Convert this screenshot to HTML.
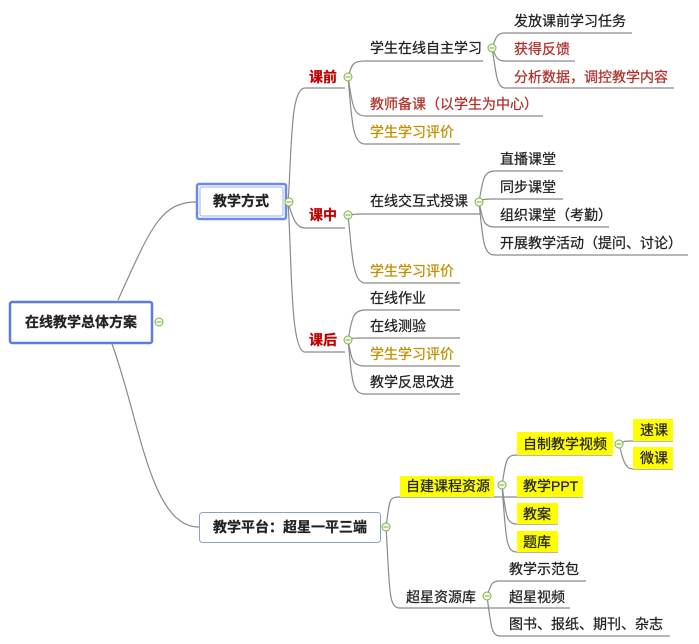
<!DOCTYPE html>
<html><head><meta charset="utf-8"><style>
html,body{margin:0;padding:0;background:#fff;}
svg{display:block}
text{font-family:"Liberation Sans","Noto Sans CJK SC",sans-serif;font-size:14px;fill:#222;stroke:#222;stroke-width:0.25;dominant-baseline:central}
.r{fill:#b0302a;stroke:#b0302a}.g{fill:#c09000;stroke:#c09000}.k{fill:#c00000;stroke:#c00000;font-weight:bold}.b{font-weight:bold}
path,line{fill:none;stroke:#8a8a8a;stroke-width:1.2}
.ic{fill:#f4fbe8;stroke:#7cb342;stroke-width:1}
.y{fill:#ffff00;stroke:none}
</style></head><body>
<svg width="699" height="644" viewBox="0 0 699 644" xmlns="http://www.w3.org/2000/svg">
<path d="M118 300 C150 230,160 202,196 202"/>
<path d="M112 344 C140 420,150 527,199 527"/>
<path d="M288 202 C292 150,290 88,305 88 L345 88"/>
<path d="M288 202 C292 215,295 228,305 228 L345 228"/>
<path d="M288 202 C292 260,290 352,305 352 L345 352"/>
<path d="M348 77 C352 65,352 61,365 61 L483 61"/>
<path d="M348 77 C352 100,352 116,365 116 L543 116"/>
<path d="M348 77 C352 120,352 144,365 144 L460 144"/>
<path d="M492 48 C496 38,496 33,505 33 L632 33"/>
<path d="M492 48 C496 56,496 61,505 61 L575 61"/>
<path d="M492 48 C496 70,496 88,505 88 L674 88"/>
<path d="M348 215 C352 215,352 214,365 214 L480 214"/>
<path d="M348 215 C352 250,352 283,365 283 L460 283"/>
<path d="M479 202 C483 180,483 171,495 171 L563 171"/>
<path d="M479 202 C483 199,483 199,495 199 L563 199"/>
<path d="M479 202 C483 220,483 227,495 227 L609 227"/>
<path d="M479 202 C483 240,483 255,495 255 L688 255"/>
<path d="M348 340 C352 320,352 310,365 310 L460 310"/>
<path d="M348 340 C352 338,352 338,365 338 L460 338"/>
<path d="M348 340 C352 360,352 366,365 366 L460 366"/>
<path d="M348 340 C352 380,352 394,365 394 L460 394"/>
<path d="M386 527 C390 500,388 497,400 497 L500 497"/>
<path d="M386 527 C390 590,388 608,400 608 L485 608"/>
<path d="M502 485 C506 460,506 455,517 455 L612 455"/>
<path d="M500 497 L583 497"/>
<path d="M502 485 C506 515,506 524,517 524 L558 524"/>
<path d="M502 485 C506 540,506 552,517 552 L558 552"/>
<path d="M619 444 C623 441,625 441,633 441 L673 441"/>
<path d="M619 444 C623 460,625 469,633 469 L673 469"/>
<path d="M487 596 C491 585,491 581,500 581 L586 581"/>
<path d="M485 608 L570 608"/>
<path d="M487 596 C491 625,491 636,500 636 L670 636"/>
<rect x="10" y="302" width="142" height="41" rx="2" fill="#fff" stroke="#5b7be0" stroke-width="2.5"/>
<text x="81" y="322" text-anchor="middle" class="b">在线教学总体方案</text>
<rect x="197" y="184" width="89" height="35" rx="2" fill="#fff" stroke="#6d8ce8" stroke-width="2.5"/>
<rect x="200" y="187" width="83" height="29" rx="2" fill="none" stroke="#9fb3ef" stroke-width="1"/>
<text x="241" y="201" text-anchor="middle" class="b">教学方式</text>
<rect x="199.5" y="512.5" width="181" height="30" rx="3" fill="#fff" stroke="#8ea0c8" stroke-width="1"/>
<text x="290" y="527" text-anchor="middle" class="b">教学平台：超星一平三端</text>
<rect class="y" x="400" y="476" width="94" height="21"/>
<rect class="y" x="517" y="432" width="96" height="23"/>
<rect class="y" x="633" y="419" width="40" height="22"/>
<rect class="y" x="633" y="447" width="40" height="22"/>
<rect class="y" x="517" y="476" width="66" height="21"/>
<rect class="y" x="517" y="503" width="41" height="21"/>
<rect class="y" x="517" y="531" width="41" height="21"/>
<text x="309" y="77" class="k">课前</text>
<text x="309" y="215" class="k">课中</text>
<text x="309" y="340" class="k">课后</text>
<text x="370" y="48">学生在线自主学习</text>
<text x="370" y="104" class="r">教师备课（以学生为中心）</text>
<text x="370" y="132" class="g">学生学习评价</text>
<text x="514" y="21">发放课前学习任务</text>
<text x="514" y="49" class="r">获得反馈</text>
<text x="514" y="77" class="r">分析数据，调控教学内容</text>
<text x="370" y="201">在线交互式授课</text>
<text x="370" y="271" class="g">学生学习评价</text>
<text x="500" y="159">直播课堂</text>
<text x="500" y="187">同步课堂</text>
<text x="500" y="215">组织课堂（考勤）</text>
<text x="500" y="243">开展教学活动（提问、讨论）</text>
<text x="370" y="298">在线作业</text>
<text x="370" y="326">在线测验</text>
<text x="370" y="354" class="g">学生学习评价</text>
<text x="370" y="382">教学反思改进</text>
<text x="406" y="486">自建课程资源</text>
<text x="523" y="444">自制教学视频</text>
<text x="640" y="430">速课</text>
<text x="640" y="458">微课</text>
<text x="523" y="486">教学PPT</text>
<text x="523" y="514">教案</text>
<text x="523" y="542">题库</text>
<text x="406" y="597">超星资源库</text>
<text x="509" y="569">教学示范包</text>
<text x="509" y="597">超星视频</text>
<text x="509" y="624">图书、报纸、期刊、杂志</text>
<g>
<circle class="ic" cx="159" cy="322" r="4"/><line x1="156.5" y1="322" x2="161.5" y2="322" style="stroke:#7cb342;stroke-width:1"/>
<circle class="ic" cx="289" cy="202" r="4"/><line x1="286.5" y1="202" x2="291.5" y2="202" style="stroke:#7cb342;stroke-width:1"/>
<circle class="ic" cx="348" cy="77" r="4"/><line x1="345.5" y1="77" x2="350.5" y2="77" style="stroke:#7cb342;stroke-width:1"/>
<circle class="ic" cx="348" cy="215" r="4"/><line x1="345.5" y1="215" x2="350.5" y2="215" style="stroke:#7cb342;stroke-width:1"/>
<circle class="ic" cx="348" cy="340" r="4"/><line x1="345.5" y1="340" x2="350.5" y2="340" style="stroke:#7cb342;stroke-width:1"/>
<circle class="ic" cx="492" cy="48" r="4"/><line x1="489.5" y1="48" x2="494.5" y2="48" style="stroke:#7cb342;stroke-width:1"/>
<circle class="ic" cx="479" cy="202" r="4"/><line x1="476.5" y1="202" x2="481.5" y2="202" style="stroke:#7cb342;stroke-width:1"/>
<circle class="ic" cx="386" cy="527" r="4"/><line x1="383.5" y1="527" x2="388.5" y2="527" style="stroke:#7cb342;stroke-width:1"/>
<circle class="ic" cx="502" cy="485" r="4"/><line x1="499.5" y1="485" x2="504.5" y2="485" style="stroke:#7cb342;stroke-width:1"/>
<circle class="ic" cx="619" cy="444" r="4"/><line x1="616.5" y1="444" x2="621.5" y2="444" style="stroke:#7cb342;stroke-width:1"/>
<circle class="ic" cx="487" cy="596" r="4"/><line x1="484.5" y1="596" x2="489.5" y2="596" style="stroke:#7cb342;stroke-width:1"/>
</g>
</svg>
</body></html>
